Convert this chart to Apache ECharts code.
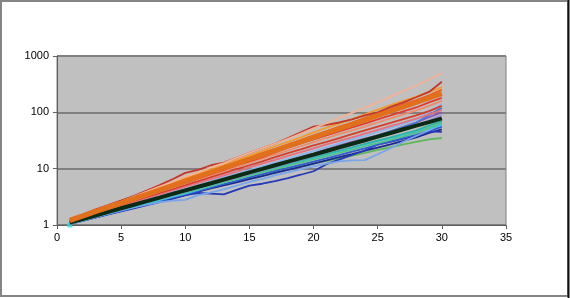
<!DOCTYPE html>
<html><head><meta charset="utf-8">
<script src="https://cdn.jsdelivr.net/npm/echarts@6/dist/echarts.min.js"></script>
<style>html,body{margin:0;padding:0;background:#fff}#c{width:570px;height:298px}</style>
</head><body><div id="c"></div>
<script>
const xTicks = [0, 5, 10, 15, 20, 25, 30, 35];
const yTicks = [1, 10, 100, 1000];

// warm family (thin)
const w1 = [1.2,1.45,1.8,2.2,2.6,3.2,3.9,4.8,5.8,7.2,8.6,10.5,12.5,15.5,19,23,28,34,42,52,64,80,98,120,150,190,240,300,380,500];
const w2 = [1.25,1.5,1.85,2.25,2.7,3.3,4.1,5.1,6.5,8.4,9.5,11.5,12.8,15.5,19,23,28,35,44,56,60,66,75,88,100,125,150,185,230,350];
const w3 = [1.2,1.45,1.75,2.1,2.55,3.1,3.7,4.5,5.5,6.7,8.0,9.6,11.5,14,17,20.5,25,30,36,44,53,63,76,92,112,135,160,190,230,280];
const w4 = [1.3,1.55,1.9,2.25,2.7,3.2,3.8,4.6,5.6,6.6,7.8,9.3,11.2,13.2,15.8,19,22.5,27,32,39,46,56,66,80,95,115,140,165,200,250];
const w5 = [1.15,1.4,1.65,2.0,2.4,2.85,3.4,4.0,4.8,5.6,6.7,8.0,9.5,11.5,13.5,16,19.5,23.5,28,33,39,46,54,63,75,88,104,122,150,180];
const w6 = [1.2,1.4,1.7,2.0,2.35,2.8,3.3,3.9,4.6,5.5,6.5,7.7,9.1,10.8,12.8,15,17.8,21,25,29.5,35,41,48,56,66,78,92,108,130,160];
const w7 = [1.2,1.4,1.65,1.95,2.3,2.7,3.15,3.7,4.35,5.1,6.0,7.1,8.3,9.8,11.5,13.5,16,18.8,22,26,30,35,41,48,56,65,76,88,105,130];
const w8 = [1.15,1.35,1.6,1.85,2.2,2.55,3.0,3.5,4.1,4.8,5.6,6.5,7.6,8.9,10.5,12.3,14.3,16.8,19.6,23,27,31,36,42,49,57,66,77,92,110];
const w9 = [1.2,1.42,1.72,2.05,2.45,2.95,3.55,4.3,5.2,6.3,7.5,9.0,10.8,13,15.5,18.5,22,26.5,32,38.5,46,55,66,79,95,113,135,160,200,260];

// cool family (thin)
const c1 = [1.1,1.3,1.5,1.75,2.05,2.4,2.8,3.25,3.8,4.4,5.1,6.0,7.0,8.1,9.5,11,12.8,15,17.5,20.5,24,28,33,38,45,53,63,75,100,140];
const c2 = [1.1,1.28,1.48,1.72,2.0,2.3,2.65,3.05,3.5,4.05,4.7,5.4,6.3,7.3,8.5,9.8,11.4,13.2,15.3,17.7,20.5,24,28,33,39,46,55,66,90,120];
const c3 = [1.1,1.27,1.46,1.68,1.95,2.25,2.6,3.0,3.45,4.0,4.6,5.3,6.2,7.2,8.4,9.8,11.4,13.4,15.8,18.5,22,26,30,34,39,46,55,66,82,100];
const c4 = [1.05,1.22,1.42,1.64,1.9,2.2,2.55,2.95,3.4,3.9,4.5,5.2,6.0,6.9,8.0,9.3,10.8,12.5,14.5,16.8,19.5,22.5,26,30.5,35.5,41.5,48.5,58,72,90];
const c5 = [1.1,1.25,1.45,1.68,1.93,2.22,2.55,2.95,3.4,3.9,4.5,5.2,6.0,6.9,8.0,9.2,10.6,12.2,14,16,18.5,21,24,27.5,31.5,36,41.5,48,58,70];
const c6 = [1.05,1.2,1.38,1.6,1.85,2.12,2.42,2.75,3.15,3.6,4.2,4.9,5.7,6.6,7.6,8.8,10.2,11.8,13.6,15.6,18,20.5,23.5,27,31,35,40,46,52,60];
const c7 = [1.05,1.2,1.38,1.58,1.8,2.05,2.3,2.55,2.7,2.8,3.4,3.8,4.3,5.0,5.8,6.6,7.6,8.6,9.8,11,12.3,13.5,14,14.2,18,23,30,38,48,62];
const c8 = [1.05,1.18,1.35,1.55,1.75,1.98,2.25,2.55,2.9,3.4,3.7,3.6,3.5,4.2,5.0,5.4,6.0,6.8,7.8,9.0,12,14.5,17.5,21,27,30,34,38,46,45];
const c9 = [1.05,1.2,1.38,1.58,1.8,2.05,2.35,2.7,3.1,3.5,4.0,4.6,5.2,5.9,6.7,7.6,8.6,9.7,11,12.3,13.8,15.3,17,19,21.5,24,27,30,33,35];
const c10 = [1.1,1.25,1.42,1.62,1.85,2.1,2.4,2.72,3.1,3.5,4.0,4.6,5.3,6.1,7.0,8.0,9.1,10.3,11.7,13.3,15.2,17.4,20,23,26.5,30.5,35,40,47,55];
const c11 = [1.1,1.26,1.45,1.67,1.92,2.2,2.52,2.88,3.3,3.75,4.3,4.95,5.7,6.5,7.5,8.6,9.8,11.2,12.8,14.6,16.7,19,21.8,25,28.5,32.5,37.5,43,53,65];
const c12 = [1.05,1.2,1.37,1.56,1.78,2.03,2.3,2.62,3.0,3.4,3.9,4.45,5.05,5.7,6.5,7.4,8.4,9.5,10.8,12.3,14,16,18.2,20.8,23.6,27,31,36,43,50];

// thick average lines
const avgWarm = [1.2,1.44,1.72,2.05,2.45,2.93,3.51,4.2,5.0,6.0,7.2,8.6,10.3,12.3,14.7,17.6,21,25,30,36,43,51,61,73,88,105,125,150,180,215];
const avgCool = [1.1,1.27,1.47,1.71,1.98,2.29,2.65,3.07,3.56,4.12,4.77,5.5,6.4,7.4,8.6,9.9,11.5,13.3,15.4,17.8,20.6,23.9,27.7,32,37,43,50,58,67,78];

const startPoint = [[1, 1]];

function pts(arr) { return arr.map((v, i) => [i + 1, v]); }
function thin(arr, color) {
  return { type: 'line', data: pts(arr), showSymbol: false, silent: true,
    lineStyle: { color: color, width: 1.8 }, z: 2 };
}
const series = [
  thin(c9, '#5cb85a'), thin(c12, '#1a2a8c'), thin(c8, '#2438b8'), thin(c10, '#3458d0'),
  thin(c7, '#78a6ea'), thin(c6, '#3cc4e6'), thin(c11, '#4ec48c'), thin(c5, '#2fb3a5'),
  thin(c4, '#a596d6'), thin(c3, '#8a58b6'), thin(c2, '#4a78e0'), thin(c1, '#8cb6f0'),
  thin(w8, '#e6707c'), thin(w7, '#d63e2c'), thin(w6, '#f08a6a'), thin(w5, '#e23a2e'),
  thin(w9, '#f6ae4e'), thin(w4, '#f05a26'), thin(w3, '#f39a30'), thin(w2, '#c2382a'),
  thin(w1, '#f4b294'),
  { type: 'line', data: pts(avgCool), showSymbol: false, silent: true,
    lineStyle: { color: '#0c2a14', width: 4 }, z: 3 },
  { type: 'line', data: pts(avgWarm), showSymbol: false, silent: true,
    lineStyle: { color: '#e0701c', width: 5 }, z: 3 },
  { type: 'scatter', data: startPoint, symbol: 'rect', symbolSize: 5, silent: true,
    itemStyle: { color: '#30e0e0' }, z: 1 }
];

const chart = echarts.init(document.getElementById('c'), null, { renderer: 'canvas' });
chart.setOption({
  animation: false,
  backgroundColor: '#ffffff',
  textStyle: { fontFamily: 'Liberation Sans, Arial, sans-serif' },
  grid: { left: 57, right: 64, top: 56, bottom: 73, show: true,
    backgroundColor: '#c0c0c0', borderColor: '#808080', borderWidth: 1 },
  xAxis: { type: 'value', min: xTicks[0], max: xTicks[xTicks.length - 1], interval: 5,
    axisLine: { show: true, onZero: false, lineStyle: { color: '#606060', width: 1 } },
    axisTick: { show: true, length: 4, lineStyle: { color: '#606060' } },
    axisLabel: { color: '#000', fontSize: 11, margin: 7 },
    splitLine: { show: false } },
  yAxis: { type: 'log', logBase: 10, min: yTicks[0], max: yTicks[yTicks.length - 1],
    axisLine: { show: true, lineStyle: { color: '#606060', width: 1 } },
    axisTick: { show: true, length: 4, lineStyle: { color: '#606060' } },
    axisLabel: { color: '#000', fontSize: 11, margin: 8, formatter: v => String(Math.round(v)) },
    splitLine: { show: true, lineStyle: { color: '#808080', width: 2 } } },
  graphic: [
    { type: 'rect', shape: { x: 1, y: 1, width: 567, height: 295 },
      style: { fill: 'none', stroke: '#858585', lineWidth: 2 }, silent: true },
    { type: 'line', shape: { x1: 568.5, y1: 0, x2: 568.5, y2: 298 },
      style: { stroke: '#111', lineWidth: 2 }, silent: true }
  ],
  series: series
});
</script></body></html>
